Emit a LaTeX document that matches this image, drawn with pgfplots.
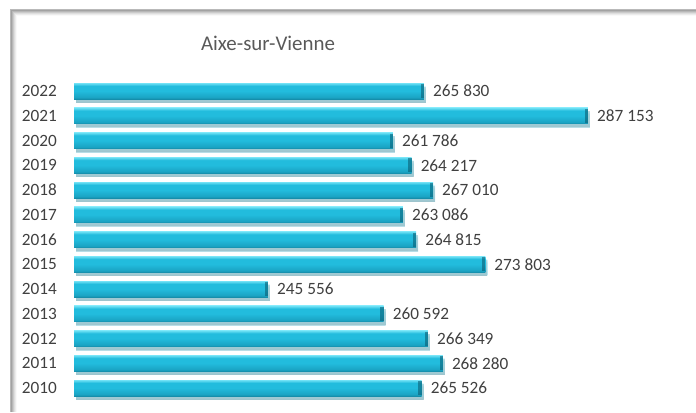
\documentclass[border=0pt]{standalone}
\usepackage{pgfplots}
\pgfplotsset{compat=1.18}
\usepackage{fontspec}
\setmainfont{Carlito}
\usetikzlibrary{shadows}
\definecolor{txt}{HTML}{404040}
\definecolor{ttl}{HTML}{595959}
\definecolor{bEdge}{HTML}{14819B}
\definecolor{bLight}{HTML}{7AE6F8}
\definecolor{bMid}{HTML}{22BCDD}
\definecolor{bMid2}{HTML}{1AA3C3}
\definecolor{bDark}{HTML}{08566B}
\pgfdeclareverticalshading{barshade}{100bp}{%
  color(0bp)=(bDark); color(12bp)=(bDark); color(30bp)=(bMid2); color(50bp)=(bMid); color(66bp)=(bMid); color(76bp)=(bLight); color(86bp)=(bMid); color(94bp)=(bMid2); color(100bp)=(bEdge)}
\pgfplotsset{mybar/.style={draw=none, shading=barshade,
  drop shadow={shadow xshift=2bp, shadow yshift=-3.5bp, opacity=0.3, fill=gray},
  error bars/.cd, x dir=minus, x fixed=420, error mark=none,
  error bar style={line width=14bp, draw=bDark, opacity=0.55}}}
\begin{document}
\begin{tikzpicture}[x=1bp,y=1bp]
\useasboundingbox (0,0) rectangle (696,-412);
% frame with soft shadow
\foreach \i/\o in {0/0.55,1/0.4,2/0.28,3/0.18,4/0.1,5/0.05}{
  \draw[gray, opacity=\o, line width=1.2bp] (11+\i,-412) -- (11+\i,-10-\i) -- (696,-10-\i);
}
\node[text=ttl, font=\fontsize{21}{25}\selectfont] at (268,-43) {Aixe-sur-Vienne};
\begin{axis}[
  at={(74bp,-400.4bp)}, anchor=south west,
  scale only axis, width=612.8bp, height=321.75bp,
  xbar, bar width=16bp, bar shift=0pt,
  xmin=220338, xmax=300000,
  ymin=-0.5, ymax=12.5,
  axis line style={draw=none},
  xtick=\empty,
  ytick={0,...,12},
  yticklabels={2010,2011,2012,2013,2014,2015,2016,2017,2018,2019,2020,2021,2022},
  major tick length=0pt,
  yticklabel style={inner sep=0pt, xshift=-17bp, text=txt, font=\fontsize{17.3}{20}\selectfont},
  point meta=explicit symbolic,
  nodes near coords,
  nodes near coords align={horizontal},
  every node near coord/.append style={text=txt, font=\fontsize{17.3}{20}\selectfont, anchor=west, xshift=9bp, inner sep=0pt},
  clip=false,
]
\addplot[mybar] coordinates {(265526,0) [265 526]};
\addplot[mybar] coordinates {(268280,1) [268 280]};
\addplot[mybar] coordinates {(266349,2) [266 349]};
\addplot[mybar] coordinates {(260592,3) [260 592]};
\addplot[mybar] coordinates {(245556,4) [245 556]};
\addplot[mybar] coordinates {(273803,5) [273 803]};
\addplot[mybar] coordinates {(264815,6) [264 815]};
\addplot[mybar] coordinates {(263086,7) [263 086]};
\addplot[mybar] coordinates {(267010,8) [267 010]};
\addplot[mybar] coordinates {(264217,9) [264 217]};
\addplot[mybar] coordinates {(261786,10) [261 786]};
\addplot[mybar] coordinates {(287153,11) [287 153]};
\addplot[mybar] coordinates {(265830,12) [265 830]};
\end{axis}
\end{tikzpicture}
\end{document}
